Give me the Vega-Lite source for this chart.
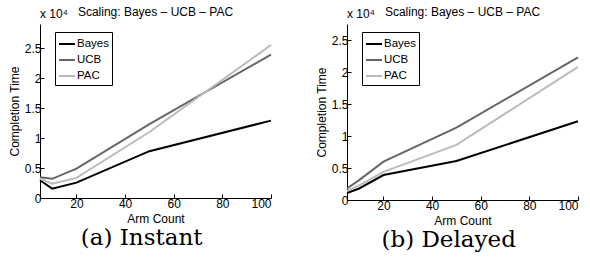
{
  "$schema": "https://vega.github.io/schema/vega-lite/v6.json",
  "background": "white",
  "padding": {"left": 8, "top": 6, "right": 0, "bottom": 0},
  "config": {
    "font": "Liberation Sans",
    "view": {"stroke": null},
    "axis": {
      "grid": false,
      "domainColor": "black",
      "domainWidth": 1,
      "tickColor": "black",
      "tickSize": -4,
      "labelColor": "black",
      "labelFont": "Liberation Sans",
      "labelFontSize": 12,
      "labelOverlap": false,
      "titleFont": "Liberation Sans",
      "titleFontSize": 12,
      "titleFontWeight": "normal",
      "titleColor": "black"
    },
    "legend": {
      "labelFont": "Liberation Sans",
      "labelFontSize": 11.5,
      "labelColor": "black"
    },
    "title": {"font": "Liberation Sans", "fontSize": 12, "fontWeight": "normal", "color": "black"}
  },
  "spacing": 40,
  "hconcat": [
    {
      "title": {"text": "(a) Instant", "orient": "bottom", "anchor": "middle", "frame": "bounds", "font": "DejaVu Serif", "fontSize": 23, "offset": 3},
      "vconcat": [
        {
          "width": 231,
          "height": 174,
          "title": {"text": "Scaling: Bayes – UCB – PAC", "offset": -11},
          "data": {"values": [
            {"arms": 5, "time": 2950, "method": "Bayes"},
            {"arms": 10, "time": 1560, "method": "Bayes"},
            {"arms": 20, "time": 2560, "method": "Bayes"},
            {"arms": 50, "time": 7800, "method": "Bayes"},
            {"arms": 100, "time": 12900, "method": "Bayes"},
            {"arms": 5, "time": 3450, "method": "UCB"},
            {"arms": 10, "time": 3200, "method": "UCB"},
            {"arms": 20, "time": 4900, "method": "UCB"},
            {"arms": 50, "time": 12300, "method": "UCB"},
            {"arms": 100, "time": 23900, "method": "UCB"},
            {"arms": 5, "time": 3200, "method": "PAC"},
            {"arms": 10, "time": 2400, "method": "PAC"},
            {"arms": 20, "time": 3350, "method": "PAC"},
            {"arms": 50, "time": 11000, "method": "PAC"},
            {"arms": 100, "time": 25500, "method": "PAC"}
          ]},
          "layer": [
            {
              "mark": {"type": "line", "strokeWidth": 2},
              "encoding": {
                "x": {"field": "arms", "type": "quantitative", "title": "Arm Count",
                      "scale": {"domain": [5, 100], "nice": false, "zero": false},
                      "axis": {"values": [20, 40, 60, 80, 100], "labelPadding": 4, "titlePadding": 4, "labelOverlap": false}},
                "y": {"field": "time", "type": "quantitative", "title": "Completion Time",
                      "scale": {"domain": [0, 29000], "nice": false},
                      "axis": {"values": [0, 5000, 10000, 15000, 20000, 25000], "labelExpr": "'' + (datum.value / 10000)", "labelPadding": 3, "titlePadding": 3, "labelOverlap": false}},
                "color": {"field": "method", "type": "nominal",
                          "scale": {"domain": ["Bayes", "UCB", "PAC"], "range": ["#000000", "#666666", "#bbbbbb"]},
                          "legend": {"title": null, "orient": "none", "legendX": 15, "legendY": 8,
                                     "strokeColor": "black", "fillColor": "white", "padding": 3,
                                     "symbolType": "stroke", "symbolSize": 256, "symbolStrokeWidth": 2,
                                     "labelOffset": 1, "rowPadding": 1}}
              }
            },
            {
              "data": {"values": [{"label": "x 10⁴"}]},
              "mark": {"type": "text", "align": "left", "baseline": "alphabetic", "fontSize": 12, "dy": -6, "dx": 0},
              "encoding": {
                "x": {"datum": 5, "type": "quantitative", "title": "Arm Count",
                      "axis": {"values": [20, 40, 60, 80, 100], "labelPadding": 4, "titlePadding": 4, "labelOverlap": false}},
                "y": {"datum": 29000, "type": "quantitative", "title": "Completion Time",
                      "axis": {"values": [0, 5000, 10000, 15000, 20000, 25000], "labelExpr": "'' + (datum.value / 10000)", "labelPadding": 3, "titlePadding": 3, "labelOverlap": false}},
                "text": {"field": "label"}
              }
            }
          ]
        }
      ]
    },
    {
      "title": {"text": "(b) Delayed", "orient": "bottom", "anchor": "middle", "frame": "bounds", "font": "DejaVu Serif", "fontSize": 23, "offset": 3},
      "vconcat": [
        {
          "width": 231,
          "height": 176,
          "title": {"text": "Scaling: Bayes – UCB – PAC", "offset": -11},
          "data": {"values": [
            {"arms": 5, "time": 1100, "method": "Bayes"},
            {"arms": 10, "time": 1800, "method": "Bayes"},
            {"arms": 20, "time": 3900, "method": "Bayes"},
            {"arms": 50, "time": 6100, "method": "Bayes"},
            {"arms": 100, "time": 12300, "method": "Bayes"},
            {"arms": 5, "time": 1800, "method": "UCB"},
            {"arms": 10, "time": 3100, "method": "UCB"},
            {"arms": 20, "time": 6000, "method": "UCB"},
            {"arms": 50, "time": 11300, "method": "UCB"},
            {"arms": 100, "time": 22300, "method": "UCB"},
            {"arms": 5, "time": 1400, "method": "PAC"},
            {"arms": 10, "time": 2300, "method": "PAC"},
            {"arms": 20, "time": 4400, "method": "PAC"},
            {"arms": 50, "time": 8600, "method": "PAC"},
            {"arms": 100, "time": 20800, "method": "PAC"}
          ]},
          "layer": [
            {
              "mark": {"type": "line", "strokeWidth": 2},
              "encoding": {
                "x": {"field": "arms", "type": "quantitative", "title": "Arm Count",
                      "scale": {"domain": [5, 100], "nice": false, "zero": false},
                      "axis": {"values": [20, 40, 60, 80, 100], "labelPadding": 4, "titlePadding": 4, "labelOverlap": false}},
                "y": {"field": "time", "type": "quantitative", "title": "Completion Time",
                      "scale": {"domain": [0, 27500], "nice": false},
                      "axis": {"values": [0, 5000, 10000, 15000, 20000, 25000], "labelExpr": "'' + (datum.value / 10000)", "labelPadding": 3, "titlePadding": 3, "labelOverlap": false}},
                "color": {"field": "method", "type": "nominal",
                          "scale": {"domain": ["Bayes", "UCB", "PAC"], "range": ["#000000", "#666666", "#bbbbbb"]},
                          "legend": {"title": null, "orient": "none", "legendX": 15, "legendY": 8,
                                     "strokeColor": "black", "fillColor": "white", "padding": 3,
                                     "symbolType": "stroke", "symbolSize": 256, "symbolStrokeWidth": 2,
                                     "labelOffset": 1, "rowPadding": 1}}
              }
            },
            {
              "data": {"values": [{"label": "x 10⁴"}]},
              "mark": {"type": "text", "align": "left", "baseline": "alphabetic", "fontSize": 12, "dy": -6, "dx": 0},
              "encoding": {
                "x": {"datum": 5, "type": "quantitative", "title": "Arm Count",
                      "axis": {"values": [20, 40, 60, 80, 100], "labelPadding": 4, "titlePadding": 4, "labelOverlap": false}},
                "y": {"datum": 27500, "type": "quantitative", "title": "Completion Time",
                      "axis": {"values": [0, 5000, 10000, 15000, 20000, 25000], "labelExpr": "'' + (datum.value / 10000)", "labelPadding": 3, "titlePadding": 3, "labelOverlap": false}},
                "text": {"field": "label"}
              }
            }
          ]
        }
      ]
    }
  ],
  "resolve": {"scale": {"color": "independent"}}
}
